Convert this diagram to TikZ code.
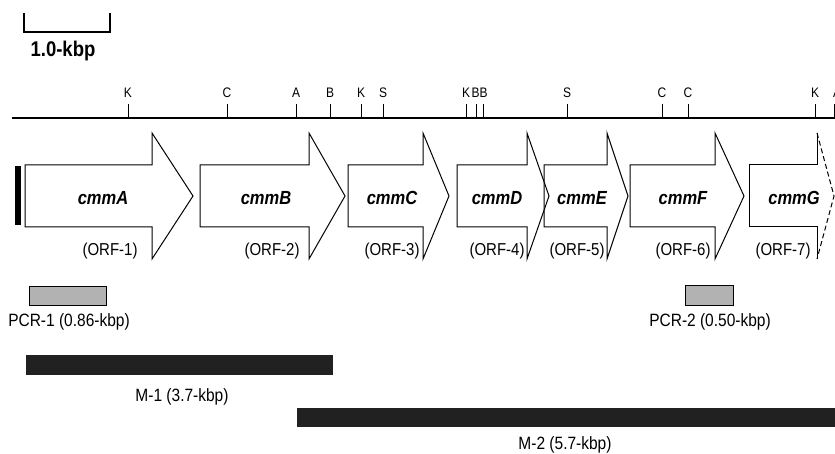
\documentclass[tikz,border=0pt]{standalone}
\usepackage{fontspec}
\setmainfont{Liberation Sans}
\newcommand\vs[1]{\scalebox{1}[1.15]{#1}}
\newcommand\genearrow[3]{\draw[gene] (#1,165) -- (#2,165) -- (#2,133) -- (#3,196) -- (#2,259) -- (#2,227) -- (#1,227) -- cycle;}
\begin{document}
\begin{tikzpicture}[x=1pt,y=-1pt,
  gene/.style={draw=black, line width=1pt, line join=miter},
  site/.style={font=\fontsize{12}{13}\selectfont, inner sep=0pt},
  sitetick/.style={line width=0.9pt},
  gname/.style={font=\fontsize{16.5}{18}\selectfont\bfseries\itshape, inner sep=0pt},
  orf/.style={font=\fontsize{15}{16}\selectfont, inner sep=0pt},
  lbl/.style={font=\fontsize{15.5}{17}\selectfont, inner sep=0pt},
  pcrbox/.style={draw=black, fill=black!30, line width=0.9pt},
  mbar/.style={fill=black!87}]
\useasboundingbox (0,0) rectangle (835,454);

% scale bar
\draw[line width=2.2pt, line join=miter] (24,13) -- (24,32) -- (110,32) -- (110,13);
\node[font=\fontsize{18.5}{20}\selectfont\bfseries, inner sep=0pt] (scale) at (63,51) {\vs{1.0-kbp}};

% restriction map
\draw[line width=2.6pt] (12,118) -- (836,118);
\foreach \x/\lx/\l/\n in {128/128/K/1, 227/227/C/2, 296/296/A/3, 330/330/B/4, 361/361/K/5, 383/383/S/6,
  466/466/K/7, 476/475.5/B/8, 483/483.5/B/9, 567/567/S/10, 662/662/C/11, 688/688/C/12, 815/815/K/13, 834/837/A/14}{
  \draw[sitetick] (\x,104) -- (\x,117);
  \node[site] (site\n) at (\lx,93) {\vs{\l}};
}

% left marker
\fill[black] (15,166) rectangle (21,225);

% genes
\genearrow{25}{152}{193}
\genearrow{200}{309}{345}
\genearrow{348}{423}{449}
\genearrow{544}{607}{628}
\genearrow{457}{527}{549}
\genearrow{630}{715}{744}
\draw[gene] (817,133) -- (817,165) -- (749,165) -- (749,227) -- (817,227) -- (817,259);
\draw[gene, dash pattern=on 5pt off 3pt] (817,133) -- (834,196) -- (817,259);

\node[gname] (gA) at (103,198) {\vs{cmmA}};
\node[gname] (gB) at (266,198) {\vs{cmmB}};
\node[gname] (gC) at (392,198) {\vs{cmmC}};
\node[gname] (gD) at (497,198) {\vs{cmmD}};
\node[gname] (gE) at (582,198) {\vs{cmmE}};
\node[gname] (gF) at (683,198) {\vs{cmmF}};
\node[gname] (gG) at (794,198) {\vs{cmmG}};

\node[orf] (o1) at (110,251) {\vs{(ORF-1)}};
\node[orf] (o2) at (272,251) {\vs{(ORF-2)}};
\node[orf] (o3) at (392,251) {\vs{(ORF-3)}};
\node[orf] (o4) at (497,251) {\vs{(ORF-4)}};
\node[orf] (o5) at (577,251) {\vs{(ORF-5)}};
\node[orf] (o6) at (683,251) {\vs{(ORF-6)}};
\node[orf] (o7) at (783,251) {\vs{(ORF-7)}};

% PCR products
\draw[pcrbox] (29,286) rectangle (106,305);
\node[lbl] (p1) at (69,322) {\vs{PCR-1 (0.86-kbp)}};
\draw[pcrbox] (685,285) rectangle (733,305);
\node[lbl] (p2) at (710,322) {\vs{PCR-2 (0.50-kbp)}};

% clones
\fill[mbar] (26,355) rectangle (333,375);
\node[lbl] (m1) at (182,397) {\vs{M-1 (3.7-kbp)}};
\fill[mbar] (297,408) rectangle (836,427);
\node[lbl] (m2) at (565,445) {\vs{M-2 (5.7-kbp)}};
\end{tikzpicture}
\end{document}
